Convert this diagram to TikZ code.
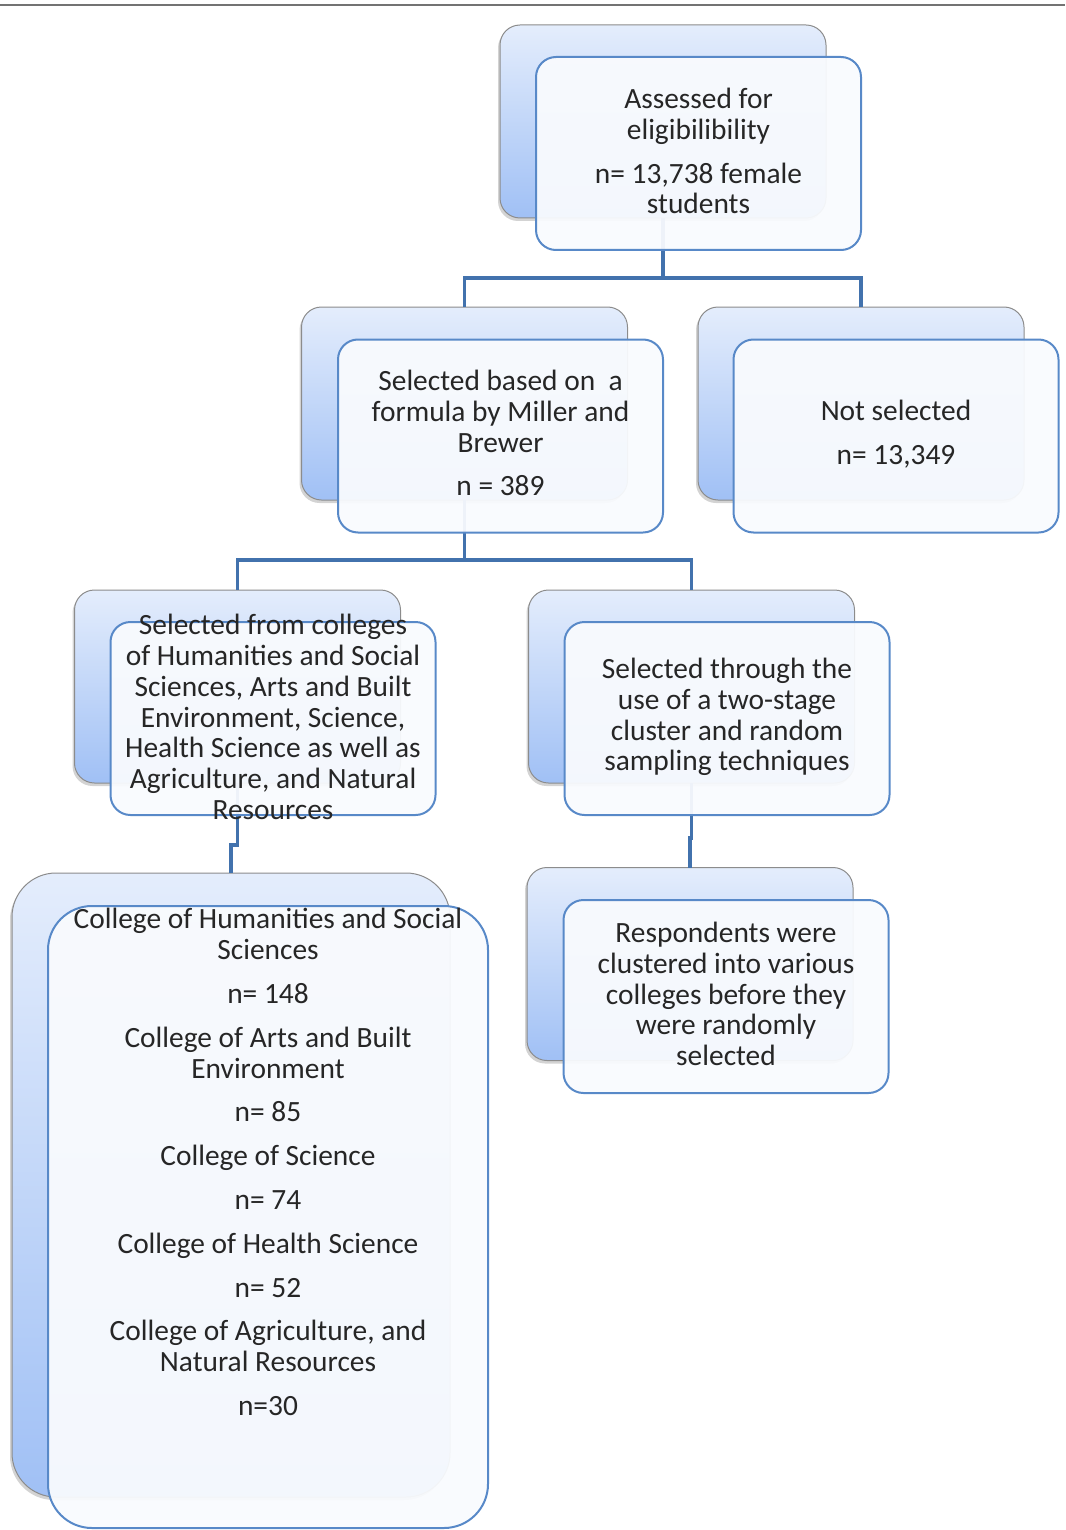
\documentclass[tikz,border=0pt]{standalone}
\usepackage{fontspec}
\setmainfont{Carlito}
\usepackage{xcolor}
\usepackage{tikz}
\usetikzlibrary{shadows}

\definecolor{linkblue}{RGB}{66,114,173}
\definecolor{frameblue}{RGB}{88,137,200}
\definecolor{backtop}{RGB}{228,237,252}
\definecolor{backbot}{RGB}{160,192,245}
\definecolor{frontfill}{RGB}{249,251,254}

\begin{document}
\begin{tikzpicture}[x=0.5pt, y=-0.5pt,
    backbox/.style={draw=black!45, line width=0.5pt, rounded corners=10pt,
        top color=backtop, bottom color=backbot,
        minimum width=163pt, minimum height=96.5pt, inner sep=0pt, outer sep=0pt,
        drop shadow={shadow xshift=-1pt, shadow yshift=-1.5pt, opacity=0.35}},
    frontbox/.style={draw=frameblue, line width=1pt, rounded corners=10pt,
        fill=frontfill, fill opacity=0.94,
        minimum width=162.5pt, minimum height=96.5pt, inner sep=0pt, outer sep=0pt},
    bigbox/.style={rounded corners=22pt},
    flowtext/.style={align=center, text=black!85, inner sep=0pt,
        font=\fontsize{14.7}{15.4}\selectfont},
    connector/.style={draw=linkblue, line width=1.75pt}]
    \useasboundingbox (0,0) rectangle (1065,1530);
    \draw[black!55, line width=0.75pt] (0,5) -- (1065,5);

    % === BACK BOXES ===
    \node[backbox] (bAssess) at (663,121.5) {};
    \node[backbox] (bSel) at (464.5,403.5) {};
    \node[backbox] (bNot) at (861,403.5) {};
    \node[backbox] (bColl) at (237.5,686.5) {};
    \node[backbox] (bTwo) at (691.5,686.5) {};
    \node[backbox, bigbox, minimum width=219pt, minimum height=312pt] (bList) at (231,1185) {};
    \node[backbox] (bResp) at (690,964) {};

    % === CONNECTORS ===
    \draw[connector] (bAssess.south) -- ++(0,60) -| (bSel.north);
    \draw[connector] (bAssess.south) -- ++(0,60) -| (bNot.north);
    \draw[connector] (bSel.south) -- ++(0,60) -| (bColl.north);
    \draw[connector] (bSel.south) -- ++(0,60) -| (bTwo.north);
    \draw[connector] (bColl.south) -- ++(0,62) -| (bList.north);
    \draw[connector] (bTwo.south) -- ++(0,55) -| (bResp.north);

    % === FRONT BOXES ===
    \node[frontbox] (fAssess) at (698.5,153.5) {};
    \node[frontbox] (fSel) at (500.5,436) {};
    \node[frontbox] (fNot) at (896,436) {};
    \node[frontbox] (fColl) at (273,718.5) {};
    \node[frontbox] (fTwo) at (727,718.5) {};
    \node[frontbox, bigbox, minimum width=220pt, minimum height=311pt] (fList) at (268,1217) {};
    \node[frontbox] (fResp) at (726,996.5) {};

    % === TEXTS ===
    \node[flowtext] (tAssess) at (698.5,151) {Assessed for\\eligibilibility\\[6.5pt]n= 13,738 female\\students};
    \node[flowtext] (tSel) at (500.5,433) {Selected based on\ \ a\\formula by Miller and\\Brewer\\[6.5pt]n = 389};
    \node[flowtext] (tNot) at (896,434) {Not selected\\[6.5pt]n= 13,349};
    \node[flowtext] (tColl) at (273,717) {Selected from colleges\\of Humanities and Social\\Sciences, Arts and Built\\Environment, Science,\\Health Science as well as\\Agriculture, and Natural\\Resources};
    \node[flowtext] (tTwo) at (727,717) {Selected through the\\use of a two-stage\\cluster and random\\sampling techniques};
    \node[flowtext] (tResp) at (726,994) {Respondents were\\clustered into various\\colleges before they\\were randomly\\selected};
    \node[flowtext] (tList) at (268,1162) {College of Humanities and Social\\Sciences\\[6.5pt]n= 148\\[6.5pt]College of Arts and Built\\Environment\\[6.5pt]n= 85\\[6.5pt]College of Science\\[6.5pt]n= 74\\[6.5pt]College of Health Science\\[6.5pt]n= 52\\[6.5pt]College of Agriculture, and\\Natural Resources\\[6.5pt]n=30};
\end{tikzpicture}
\end{document}
